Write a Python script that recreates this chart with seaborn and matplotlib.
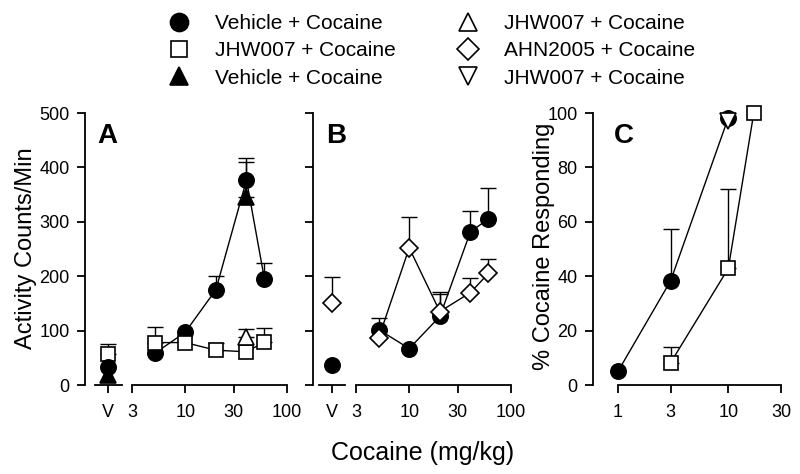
import numpy as np
import pandas as pd
import seaborn as sns
import matplotlib.pyplot as plt
from matplotlib.lines import Line2D
from matplotlib.ticker import NullLocator

sns.set_style("ticks")
plt.rcParams['font.family'] = ['Liberation Sans', 'DejaVu Sans']
plt.rcParams['text.color'] = 'black'
plt.rcParams['axes.labelcolor'] = 'black'
plt.rcParams['xtick.color'] = 'black'
plt.rcParams['ytick.color'] = 'black'

#%% data
doses = [5, 10, 20, 40, 60]

# panel A - locomotor activity
a_veh = [58, 97, 175, 377, 195]
a_veh_err = [0, 0, 26, 41, 29]
a_jhw = [78, 78, 64, 61, 79]
a_jhw_err = [29, 0, 13, 0, 26]
a_veh2_dose = [40]
a_veh2 = [346]
a_veh2_err = [64]
a_jhw2_dose = [40]
a_jhw2 = [89]
a_jhw2_err = [14]
a_v_veh = [34]
a_v_jhw = [57]
a_v_jhw_err = [18]
a_v_veh2 = [18]

# panel B
b_veh = [102, 67, 126, 282, 305]
b_veh_err = [22, 0, 45, 37, 57]
b_ahn = [86, 252, 135, 170, 205]
b_ahn_err = [0, 56, 33, 27, 26]
b_v_veh = [37]
b_v_ahn = [151]
b_v_ahn_err = [47]

# panel C - drug discrimination
c_veh_dose = [1, 3, 10]
c_veh = [5, 38.3, 98.3]
c_veh_err = [0, 19, 0]
c_jhw_dose = [3, 10, 17]
c_jhw = [8.2, 42.9, 100]
c_jhw_err = [5.7, 29, 0]
c_jhw3_dose = [10]
c_jhw3 = [97]

#%% layout helpers
W, H = 800, 474
fig = plt.figure(figsize=(W / 100, H / 100), dpi=100)


def box(x0, x1, top=113, bot=385):
    return [x0 / W, (H - bot) / H, (x1 - x0) / W, (bot - top) / H]


def style(ax):
    ax.patch.set_alpha(0)
    for s in ['top', 'right']:
        ax.spines[s].set_visible(False)
    for s in ['left', 'bottom']:
        ax.spines[s].set_linewidth(1.3)
        ax.spines[s].set_color('black')
    ax.tick_params(direction='out', length=6, width=1.3, labelsize=13,
                   colors='black', pad=5)
    ax.tick_params(axis='x', pad=8)


def series(ax, x, y, err, marker, filled, ms, line=True, z=3):
    x = np.asarray(x, dtype=float)
    y = np.asarray(y, dtype=float)
    err = np.asarray(err, dtype=float)
    m = err > 0
    if m.any():
        ax.errorbar(x[m], y[m], yerr=[np.zeros(m.sum()), err[m]], fmt='none',
                    ecolor='black', elinewidth=1, capsize=6, capthick=1,
                    zorder=z - 1, clip_on=False)
    sns.lineplot(x=x, y=y, ax=ax, color='black', marker=marker, markersize=ms,
                 markerfacecolor='black' if filled else 'white',
                 markeredgecolor='black', markeredgewidth=1.2,
                 linewidth=1 if line else 0, linestyle='-' if line else 'none',
                 zorder=z, clip_on=False, estimator=None, sort=False)


def v_axes(x0, x1, lo, hi, labels):
    ax = fig.add_axes(box(x0, x1))
    style(ax)
    ax.set_xlim(-1, 1)
    ax.set_ylim(0, 500)
    ax.set_xticks([0])
    ax.set_xticklabels(['V'])
    ax.spines['bottom'].set_bounds(lo, hi)
    ax.set_yticks(range(0, 501, 100))
    if not labels:
        ax.set_yticklabels([])
    return ax


def log_axes(x0, x1):
    ax = fig.add_axes(box(x0, x1))
    style(ax)
    ax.set_xscale('log')
    ax.spines['left'].set_visible(False)
    ax.tick_params(axis='y', left=False, labelleft=False)
    return ax


def finish_log(ax):
    ax.set_xlim(3, 100)
    ax.set_ylim(0, 500)
    ax.set_xticks([3, 10, 30, 100])
    ax.set_xticklabels(['3', '10', '30', '100'])
    ax.xaxis.set_minor_locator(NullLocator())
    ax.set_xlabel('')
    ax.set_ylabel('')


#%% panel A
axAv = v_axes(85, 131, -0.565, 0.609, True)
series(axAv, [0], a_v_jhw, a_v_jhw_err, 's', False, 10, line=False, z=3)
series(axAv, [0], a_v_veh, [0], 'o', True, 11, line=False, z=5)
series(axAv, [0], a_v_veh2, [0], '^', True, 11, line=False, z=7)

axAl = log_axes(132, 287)
series(axAl, doses, a_veh, a_veh_err, 'o', True, 11, z=3)
series(axAl, doses, a_jhw, a_jhw_err, 's', False, 10, z=5)
series(axAl, a_veh2_dose, a_veh2, a_veh2_err, '^', True, 11, line=False, z=7)
series(axAl, a_jhw2_dose, a_jhw2, a_jhw2_err, '^', False, 11, line=False, z=9)
finish_log(axAl)
axAv.set_ylim(0, 500)

#%% panel B
axBv = v_axes(313, 351, -0.684, 0.684, False)
series(axBv, [0], b_v_veh, [0], 'o', True, 11, line=False, z=3)
series(axBv, [0], b_v_ahn, b_v_ahn_err, 'D', False, 9.5, line=False, z=5)

axBl = log_axes(356, 511)
series(axBl, doses, b_veh, b_veh_err, 'o', True, 11, z=3)
series(axBl, doses, b_ahn, b_ahn_err, 'D', False, 9.5, z=5)
finish_log(axBl)
axBv.set_ylim(0, 500)

#%% panel C
axC = fig.add_axes(box(593, 781))
style(axC)
axC.set_xscale('log')
series(axC, c_jhw_dose, c_jhw, c_jhw_err, 's', False, 10, z=3)
series(axC, c_veh_dose, c_veh, c_veh_err, 'o', True, 11, z=5)
series(axC, c_jhw3_dose, c_jhw3, [0], 'v', False, 11, line=False, z=7)
axC.set_xlim(0.594, 30)
axC.set_ylim(0, 100)
axC.set_xticks([1, 3, 10, 30])
axC.set_xticklabels(['1', '3', '10', '30'])
axC.xaxis.set_minor_locator(NullLocator())
axC.set_yticks(range(0, 101, 20))
axC.spines['bottom'].set_bounds(1, 30)
axC.set_xlabel('')
axC.set_ylabel('')

#%% text
fig.text(97 / W, 1 - 143 / H, 'A', fontsize=20, fontweight='bold', va='baseline')
fig.text(326 / W, 1 - 143 / H, 'B', fontsize=20, fontweight='bold', va='baseline')
fig.text(614 / W, 1 - 143 / H, 'C', fontsize=20, fontweight='bold', va='baseline')
fig.text(26 / W, 1 - 248 / H, 'Activity Counts/Min', fontsize=17, rotation=90,
         ha='center', va='center')
fig.text(544 / W, 1 - 246 / H, '% Cocaine Responding', fontsize=17, rotation=90,
         ha='center', va='center')
fig.text(423 / W, 1 - 453 / H, 'Cocaine (mg/kg)', fontsize=18, ha='center', va='center')

#%% legend
def handle(marker, filled, ms):
    return Line2D([], [], linestyle='none', marker=marker, markersize=ms,
                  markerfacecolor='black' if filled else 'white',
                  markeredgecolor='black', markeredgewidth=1.2)


leg_kw = dict(loc='upper left', frameon=False, fontsize=15, handlelength=1.5,
              handletextpad=1.0, labelspacing=0.4, borderpad=0, borderaxespad=0)
fig.legend(handles=[handle('o', True, 13), handle('s', False, 11), handle('^', True, 13)],
           labels=['Vehicle + Cocaine', 'JHW007 + Cocaine', 'Vehicle + Cocaine'],
           bbox_to_anchor=(163 / W, 1 - 14 / H), **leg_kw)
fig.legend(handles=[handle('^', False, 13), handle('D', False, 11), handle('v', False, 13)],
           labels=['JHW007 + Cocaine', 'AHN2005 + Cocaine', 'JHW007 + Cocaine'],
           bbox_to_anchor=(452 / W, 1 - 14 / H), **leg_kw)

fig.savefig('out.png', dpi=100)
